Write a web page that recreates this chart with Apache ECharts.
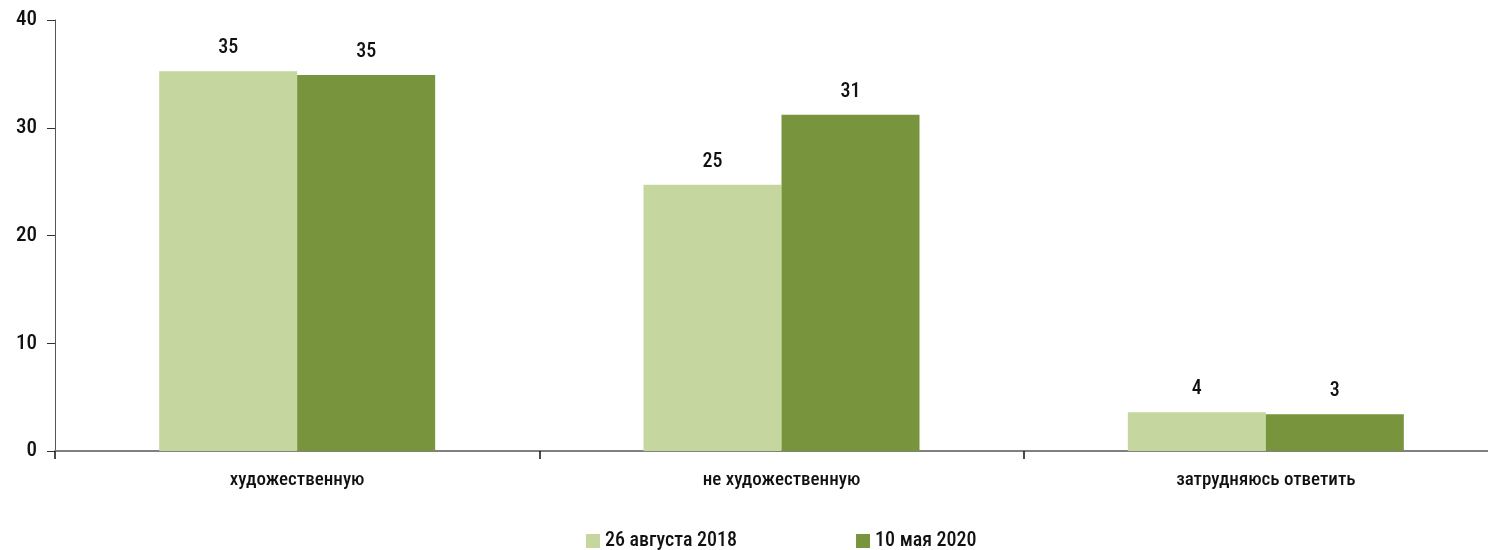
<!DOCTYPE html>
<html><head><meta charset="utf-8">
<script src="https://cdn.jsdelivr.net/npm/echarts@6/dist/echarts.min.js"></script>
<style>html,body{margin:0;padding:0;background:#fff;overflow:hidden}#c{width:1508px;height:550px}</style>
</head><body><div id="c"></div>
<script>
const categories = ['художественную', 'не художественную', 'затрудняюсь ответить'];
const seriesNames = ['26 августа 2018', '10 мая 2020'];
const values2018 = [35.25, 24.7, 3.6];
const values2020 = [34.9, 31.2, 3.4];
const yTicks = [0, 10, 20, 30, 40];

const FONT = '"Liberation Sans Narrow", "Roboto Condensed", "Noto Sans", sans-serif';
const chart = echarts.init(document.getElementById('c'), null, {renderer: 'canvas'});
const lbl = {show: true, position: 'top', distance: 13, color: '#111', fontFamily: FONT, fontSize: 20,
  fontWeight: 500, formatter: p => Math.round(p.value)};
chart.setOption({
  animation: false,
  textStyle: {fontFamily: FONT},
  grid: {left: 55, top: 20, right: 0, bottom: 99, containLabel: false},
  legend: {
    top: 526, left: 581, itemWidth: 14, itemHeight: 14, itemGap: 119, icon: 'rect',
    textStyle: {fontFamily: FONT, fontSize: 20, fontWeight: 500, color: '#111'},
    data: seriesNames
  },
  xAxis: {
    type: 'category', data: categories,
    axisLine: {lineStyle: {color: '#808080', width: 2}},
    axisTick: {show: true, length: 8, lineStyle: {color: '#111', width: 1.5}},
    axisLabel: {color: '#111', fontFamily: FONT, fontSize: 19, fontWeight: 500, margin: 20}
  },
  yAxis: {
    type: 'value', min: 0, max: 40, interval: 10,
    axisLine: {show: true, lineStyle: {color: '#555', width: 1}},
    axisTick: {show: true, length: 8, lineStyle: {color: '#333'}},
    splitLine: {show: false},
    axisLabel: {color: '#111', fontFamily: FONT, fontSize: 21, fontWeight: 500, margin: 18,
      formatter: v => yTicks.includes(v) ? String(v) : ''}
  },
  series: [
    {name: seriesNames[0], type: 'bar', data: values2018, barWidth: 138, barGap: '0%',
      itemStyle: {color: '#C5D79E'}, label: lbl},
    {name: seriesNames[1], type: 'bar', data: values2020, barWidth: 138, barGap: '0%',
      itemStyle: {color: '#78943C'}, label: lbl}
  ]
});
</script></body></html>
